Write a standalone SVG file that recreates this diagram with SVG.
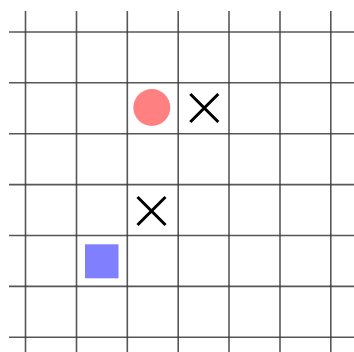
<svg xmlns="http://www.w3.org/2000/svg" width="354" height="352" viewBox="0 0 354 352">
  <style>
    .grid line { stroke: #3a3a3a; stroke-width: 1.6; stroke-opacity: 0.85; }
    .cross { stroke: #000; stroke-width: 3; fill: none; }
  </style>
  <rect width="354" height="352" fill="#fff"/>
  <g id="grid" class="grid">
    <line x1="25.5" y1="11" x2="25.5" y2="352"/>
    <line x1="76.5" y1="11" x2="76.5" y2="352"/>
    <line x1="127.3" y1="11" x2="127.3" y2="352"/>
    <line x1="178.2" y1="11" x2="178.2" y2="352"/>
    <line x1="229" y1="11" x2="229" y2="352"/>
    <line x1="280" y1="11" x2="280" y2="352"/>
    <line x1="330.8" y1="11" x2="330.8" y2="352"/>
    <line x1="9" y1="32" x2="354" y2="32"/>
    <line x1="9" y1="82.8" x2="354" y2="82.8"/>
    <line x1="9" y1="133.7" x2="354" y2="133.7"/>
    <line x1="9" y1="184.6" x2="354" y2="184.6"/>
    <line x1="9" y1="235.5" x2="354" y2="235.5"/>
    <line x1="9" y1="286.4" x2="354" y2="286.4"/>
    <line x1="9" y1="337.3" x2="354" y2="337.3"/>
  </g>
  <g id="circle">
    <circle cx="151.8" cy="107.5" r="18.5" fill="#ff8080"/>
  </g>
  <g id="cross1" class="cross">
    <path d="M190.3 94 L218.3 122 M218.3 94 L190.3 122"/>
  </g>
  <g id="cross2" class="cross">
    <path d="M137.5 197 L165.5 225 M165.5 197 L137.5 225"/>
  </g>
  <g id="square">
    <rect x="85" y="244.3" width="33.5" height="34" fill="#8080ff"/>
  </g>
</svg>
